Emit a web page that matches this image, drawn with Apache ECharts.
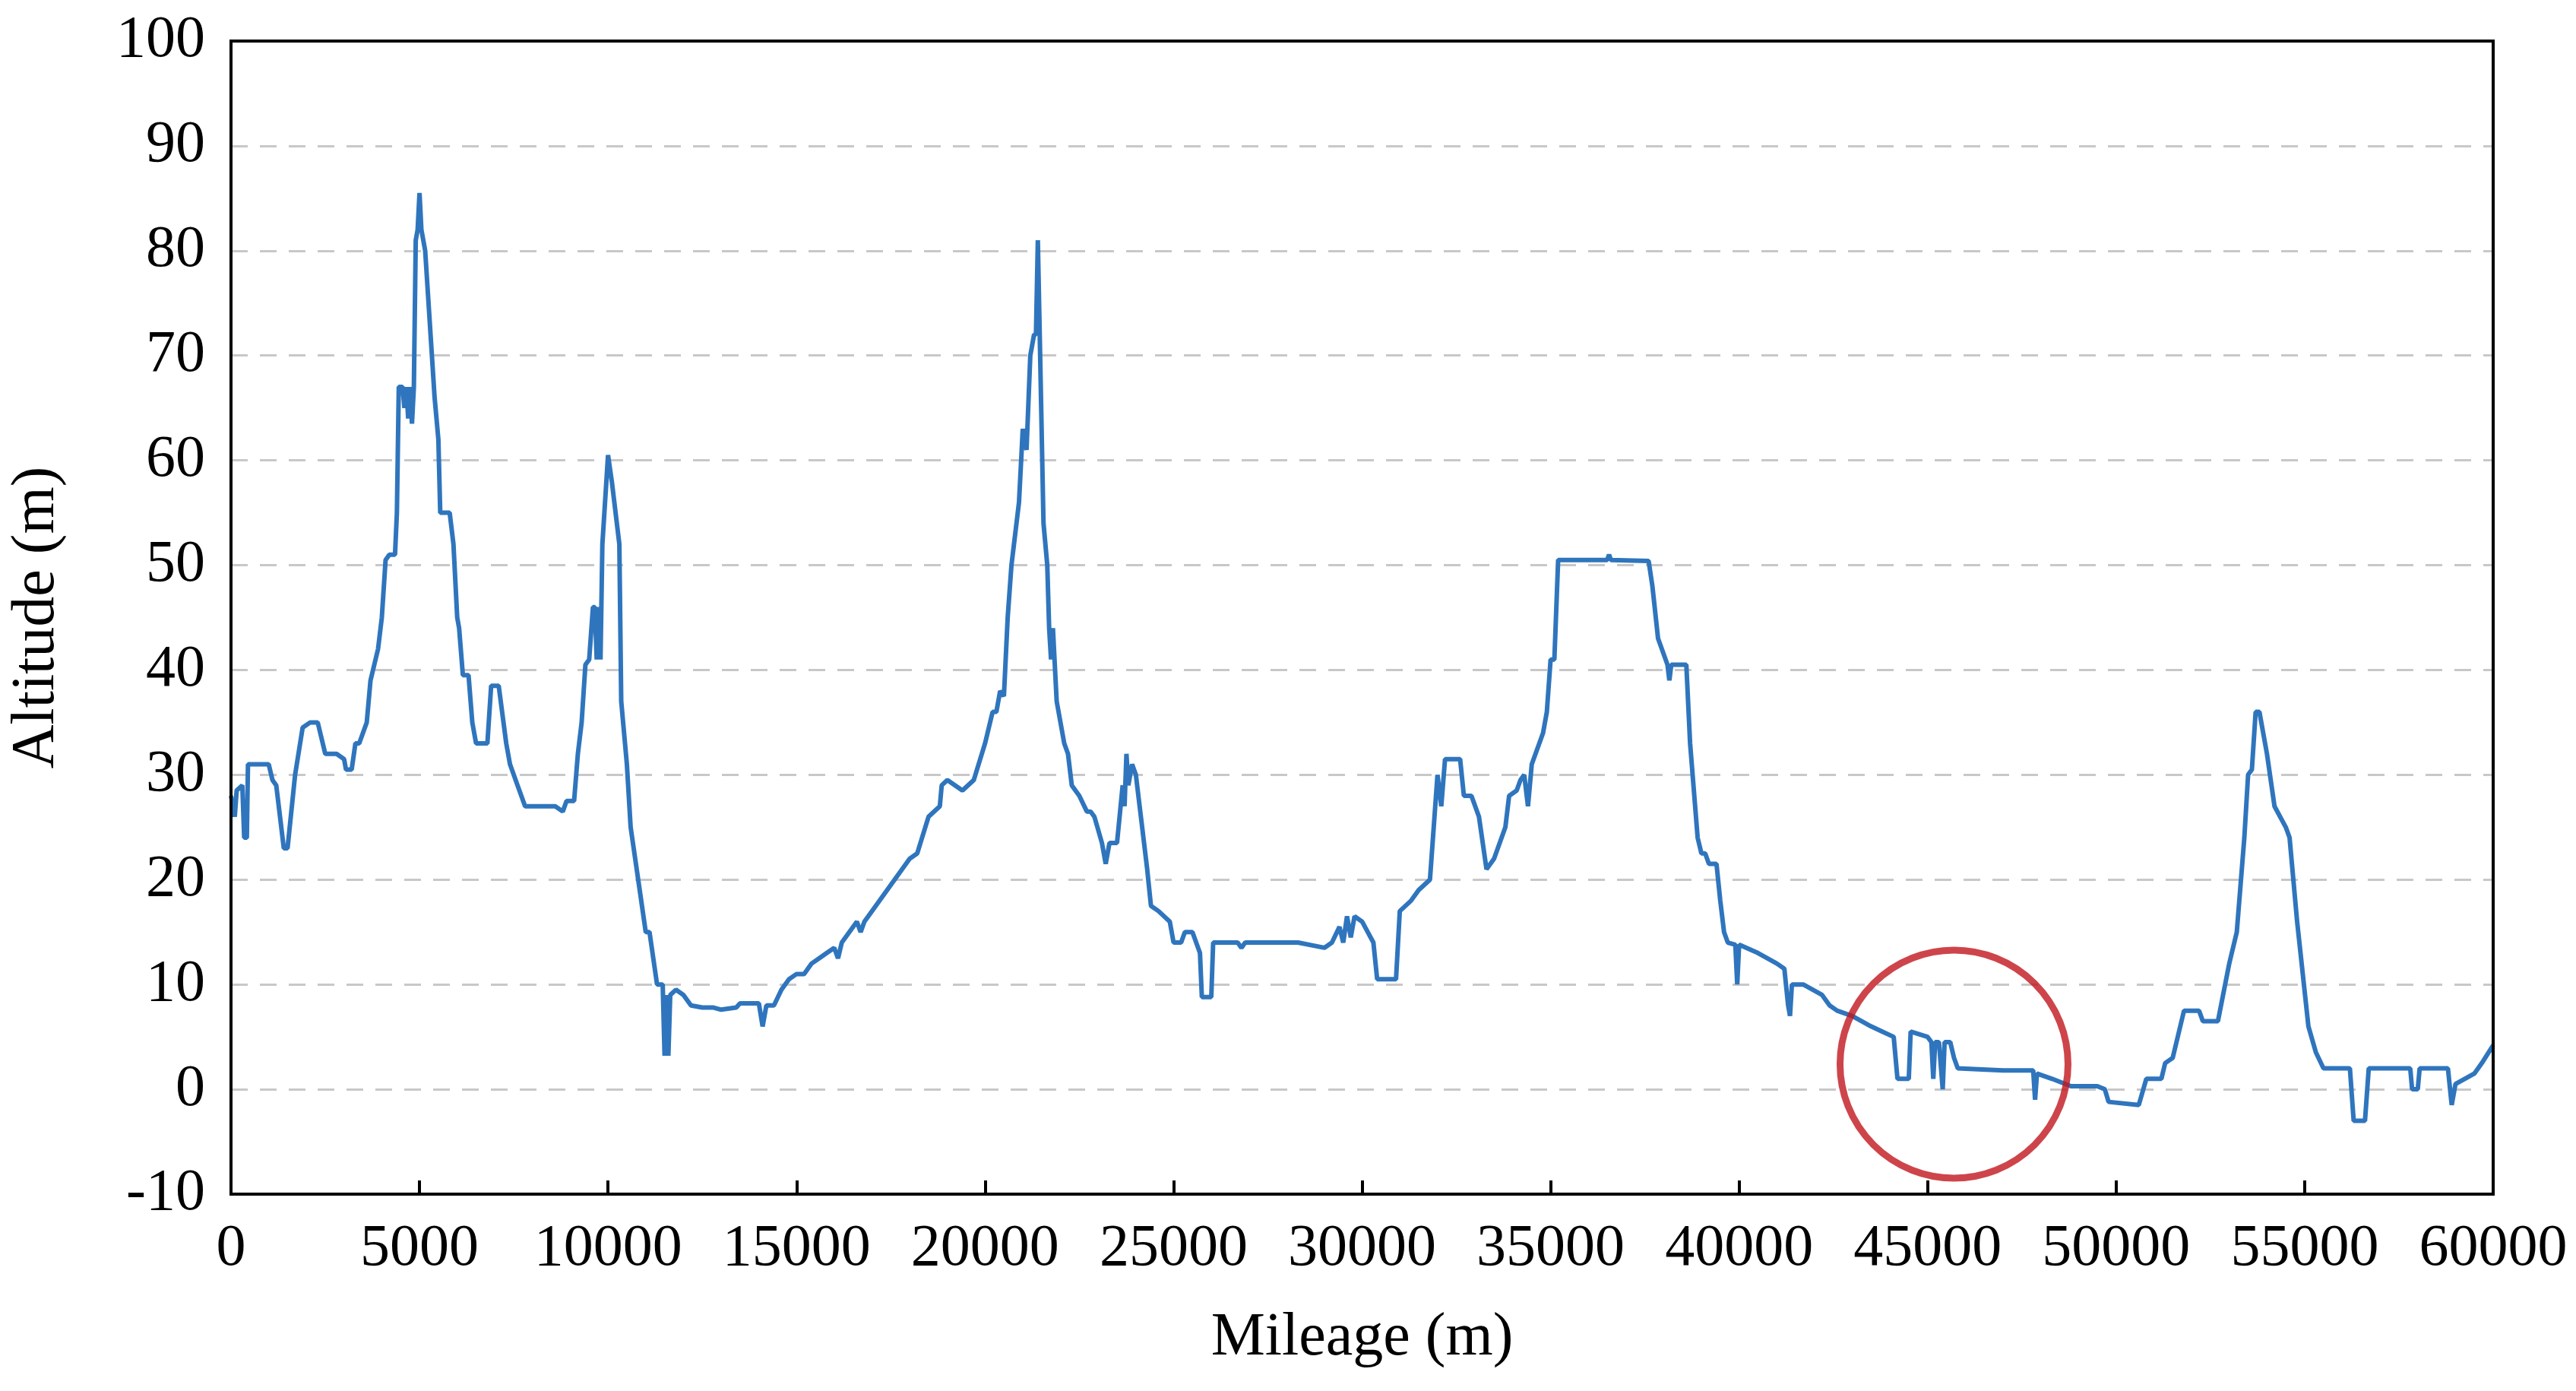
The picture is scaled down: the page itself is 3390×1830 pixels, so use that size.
<!DOCTYPE html>
<html>
<head>
<meta charset="utf-8">
<script src="https://cdn.jsdelivr.net/npm/echarts@6/dist/echarts.min.js"></script>
<style>html,body{margin:0;padding:0;background:#fff}#main{width:3390px;height:1830px}</style>
</head>
<body>
<div id="main"></div>
<script>
// mileage (m) / altitude (m)
const mileage = [0,100,150,300,350,420,450,1000,1100,1200,1400,1500,1700,1900,2100,2300,2500,2800,3000,3050,3200,3300,3400,3600,3700,3900,4000,4100,4200,4350,4400,4450,4550,4600,4650,4700,4750,4800,4850,4900,4950,5000,5050,5150,5400,5500,5550,5800,5900,6000,6050,6150,6300,6400,6500,6800,6900,7100,7300,7400,7600,7800,8600,8800,8900,9100,9200,9300,9400,9500,9600,9650,9700,9750,9800,9850,10000,10100,10300,10350,10500,10600,10800,11000,11100,11300,11450,11500,11550,11600,11650,11800,12000,12200,12500,12800,13000,13400,13500,14000,14100,14200,14400,14600,14800,15000,15200,15400,15600,15800,16000,16100,16200,16400,16600,16700,16800,17000,17500,18000,18200,18500,18800,18850,19000,19400,19700,20000,20200,20300,20400,20500,20600,20700,20900,21000,21100,21200,21300,21350,21400,21450,21550,21650,21700,21750,21800,21900,22100,22200,22300,22500,22700,22800,22900,23100,23200,23300,23500,23650,23700,23750,23800,23900,24000,24100,24300,24400,24600,24900,25000,25200,25300,25500,25600,25700,25750,26000,26050,26700,26800,26900,27500,28300,29000,29200,29400,29500,29600,29700,29800,30000,30300,30400,30900,31000,31300,31500,31800,32000,32100,32200,32600,32700,32900,33100,33300,33500,33800,33900,34100,34200,34300,34400,34500,34800,34900,35000,35100,35200,36500,36550,36600,37600,37700,37850,38100,38150,38200,38600,38700,38900,39000,39100,39200,39400,39500,39600,39700,39900,39950,40000,40500,41000,41200,41300,41350,41400,41700,42200,42400,42600,43000,43500,43800,44100,44200,44500,44550,45000,45100,45150,45200,45300,45400,45450,45600,45700,45800,47000,47800,47850,47900,48300,48800,49500,49700,49800,50600,50800,51200,51300,51500,51700,51800,52200,52300,52700,53000,53200,53400,53500,53600,53700,53800,54000,54200,54500,54600,54800,55100,55300,55500,56200,56300,56600,56700,57800,57850,58000,58050,58800,58900,59000,59500,59700,60000];
const altitude = [28,26,28.5,29,24,24,31,31,29.5,29,23,23,30,34.5,35,35,32,32,31.5,30.5,30.5,33,33,35,39,42,45,50.5,51,51,55,67,67,65,67,64,67,63.5,67,81,82,85.5,82,80,66,62,55,55,52,45,44,39.5,39.5,35,33,33,38.5,38.5,33,31,29,27,27,26.5,27.5,27.5,32,35,40.5,41,46,46,41,46,41,52,60.5,58,52,37,31,25,20,15,15,10,10,3.2,9,3.2,9,9.5,9,8,7.8,7.8,7.6,7.8,8.2,8.2,6,8,8,9.5,10.5,11,11,12,12.5,13,13.5,12.5,14,15,16,15,16,17,19.5,22,22.5,26,27,29,29.5,28.5,29.5,33,36,36,38,37.5,45,50,56,63,61,70,72,72,81,72,54,50,44,41,44,37,33,32,29,28,26.5,26.5,26,23.5,21.5,23.5,23.5,29,27,32,29,31,30,27,21,17.5,17,16,14,14,15,15,14,13,8.8,8.8,14,14,13.5,14,14,14,13.5,14,15.5,14,16.5,14.5,16.5,16,14,10.5,10.5,17,18,19,20,30,27,31.5,31.5,28,28,26,21,22,25,28,28.5,29.5,30,27,31,34,36,41,41,50.5,50.5,51,50.5,50.4,48,43,40.5,39,40.5,40.5,33,24,22.5,22.5,21.5,21.5,18,15,14,13.8,10,13.8,13,12,11.5,8,7,10,10,9,8,7.5,7,6,5.5,5,1,1,5.5,5,4.5,1,4.5,4.5,0,4.5,4.5,3,2,1.8,1.8,-1,1.5,1,0.3,0.3,0,-1.2,-1.5,1,1,2.5,3,6,7.5,7.5,6.5,6.5,12,15,24,30,30.5,36,36,32,27,25,24,16,6,3.5,2,2,-3,-3,2,2,0,0,2,2,-1.5,0.5,1.5,2.5,4.2];
// highlighted region (red circle)
const circleAt = [[45700, 2.4]];

const chart = echarts.init(document.getElementById('main'));
const font = 'Liberation Serif, Times New Roman, serif';
chart.setOption({
  animation: false,
  grid: { left: 304, right: 109, top: 54, bottom: 259 },
  xAxis: {
    type: 'value', min: 0, max: 60000, interval: 5000,
    name: 'Mileage (m)', nameLocation: 'middle', nameGap: 150,
    nameTextStyle: { fontFamily: font, fontSize: 80, color: '#000' },
    axisLine: { onZero: false, lineStyle: { color: '#000', width: 4 } },
    axisTick: { inside: true, length: 18, lineStyle: { color: '#000', width: 4 } },
    axisLabel: { fontFamily: font, fontSize: 78, color: '#000', margin: 34, formatter: v => String(v) },
    splitLine: { show: false }
  },
  yAxis: {
    type: 'value', min: -10, max: 100, interval: 10,
    name: 'Altitude (m)', nameLocation: 'middle', nameGap: 215,
    nameTextStyle: { fontFamily: font, fontSize: 80, color: '#000' },
    axisLine: { show: true, lineStyle: { color: '#000', width: 4 } },
    axisTick: { show: false },
    axisLabel: { fontFamily: font, fontSize: 78, color: '#000', margin: 34 },
    splitLine: { lineStyle: { color: '#c8c8c8', width: 3, type: [22, 16] } }
  },
  graphic: [{
    type: 'rect', shape: { x: 304, y: 54, width: 3390 - 304 - 109, height: 1830 - 54 - 259 },
    style: { fill: 'none', stroke: '#000', lineWidth: 4 }, silent: true, z: 10
  }],
  series: [{
    type: 'line', showSymbol: false, symbol: 'none',
    data: mileage.map((m, i) => [m, altitude[i]]),
    lineStyle: { color: '#2f75bd', width: 6 }, z: 3
  }, {
    type: 'scatter', data: circleAt, symbol: 'circle', symbolSize: 300,
    itemStyle: { color: 'rgba(0,0,0,0)', borderColor: '#c0161d', borderWidth: 9 }, z: 4
  }]
});
</script>
</body>
</html>
